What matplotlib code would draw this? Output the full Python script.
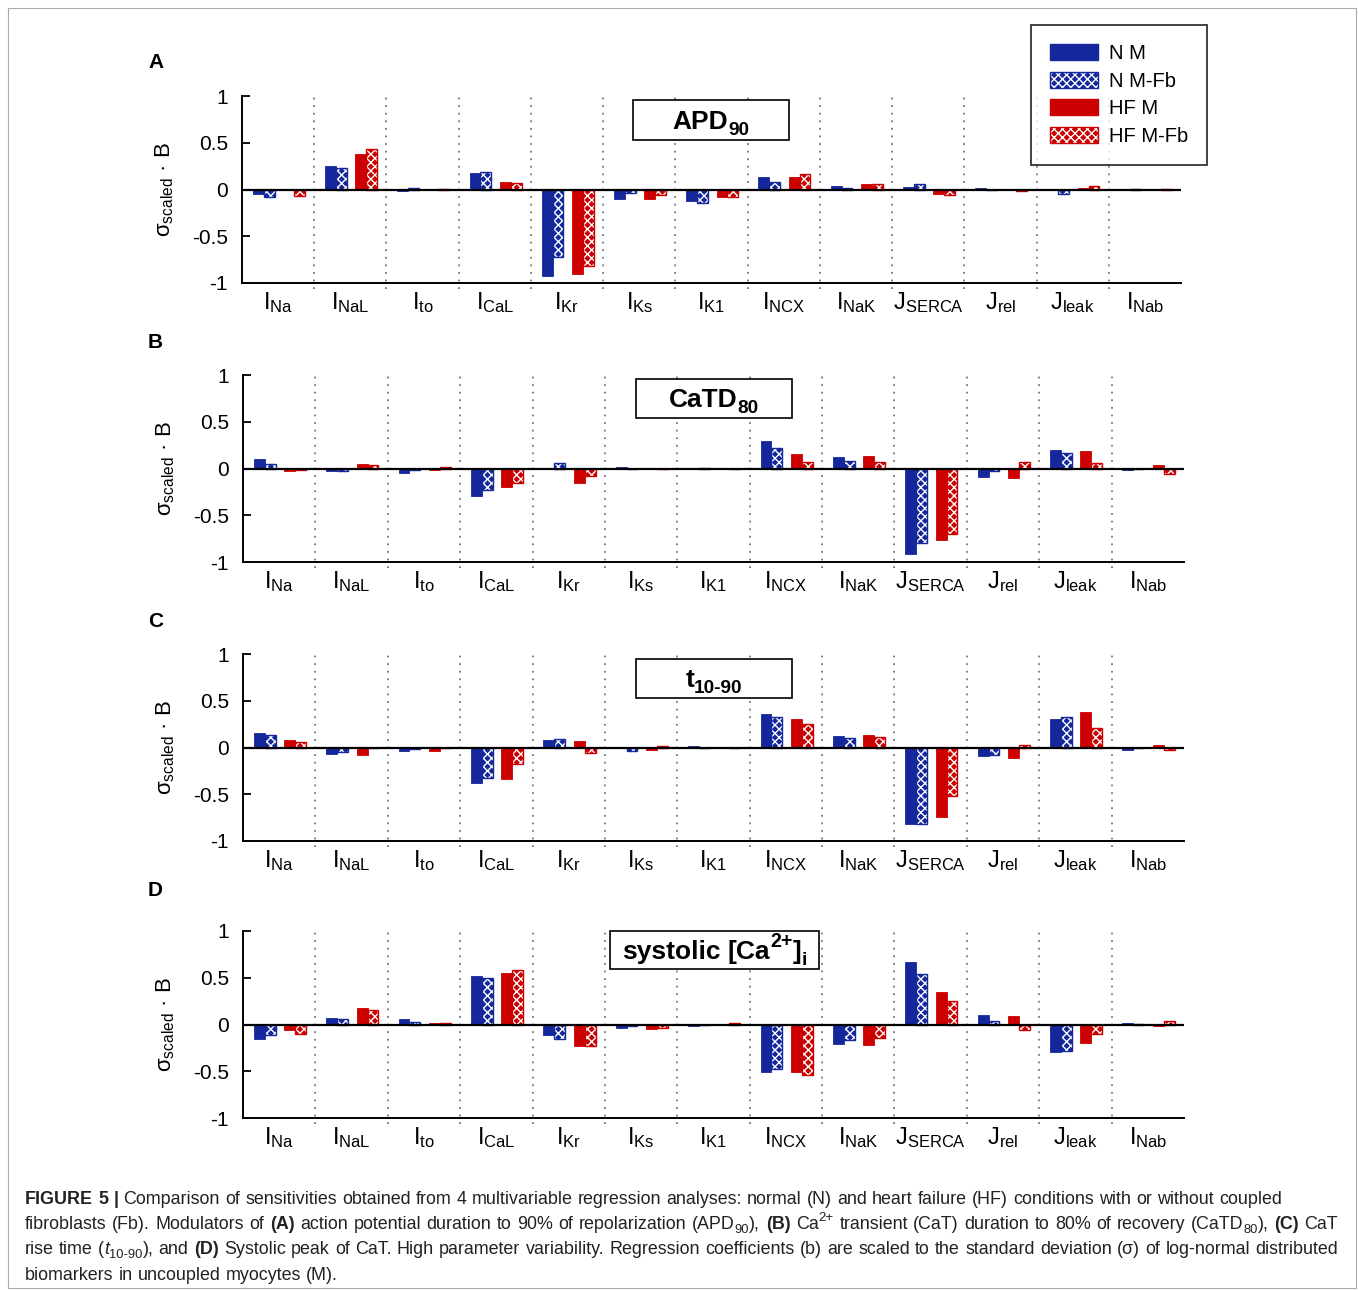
import matplotlib
matplotlib.use("Agg")
import matplotlib.pyplot as plt
from matplotlib.patches import Patch, Rectangle
from matplotlib.legend_handler import HandlerTuple
from matplotlib.transforms import IdentityTransform

plt.rcParams["font.family"] = ["Liberation Sans", "DejaVu Sans"]
plt.rcParams["hatch.linewidth"] = 1.0

# ── Data ──────────────────────────────────────────────────────────────────────

categories = [r"I$\mathregular{_{Na}}$", r"I$\mathregular{_{NaL}}$", r"I$\mathregular{_{to}}$",
              r"I$\mathregular{_{CaL}}$", r"I$\mathregular{_{Kr}}$", r"I$\mathregular{_{Ks}}$",
              r"I$\mathregular{_{K1}}$", r"I$\mathregular{_{NCX}}$", r"I$\mathregular{_{NaK}}$",
              r"J$\mathregular{_{SERCA}}$", r"J$\mathregular{_{rel}}$", r"J$\mathregular{_{leak}}$",
              r"I$\mathregular{_{Nab}}$"]
series_labels = ["N M", "N M-Fb", "HF M", "HF M-Fb"]
panel_letters = ["A", "B", "C", "D"]

# (A) APD90
apd_n_m   = [-0.05, 0.25, -0.015, 0.175, -0.925, -0.105, -0.125, 0.135, 0.04, 0.025, 0.02, -0.01, 0.01]
apd_n_fb  = [-0.08, 0.23, 0.02, 0.185, -0.72, -0.04, -0.14, 0.075, 0.02, 0.055, -0.01, -0.045, 0.005]
apd_hf_m  = [-0.005, 0.385, -0.01, 0.08, -0.905, -0.10, -0.085, 0.135, 0.06, -0.045, 0.005, 0.015, 0.01]
apd_hf_fb = [-0.065, 0.43, 0.01, 0.065, -0.815, -0.055, -0.08, 0.165, 0.06, -0.06, -0.02, 0.04, 0.005]

# (B) CaTD80
catd_n_m   = [0.10, -0.03, -0.05, -0.29, 0.005, 0.015, 0.01, 0.29, 0.125, -0.915, -0.09, 0.195, -0.015]
catd_n_fb  = [0.05, -0.03, -0.015, -0.235, 0.055, -0.005, 0.005, 0.215, 0.085, -0.795, -0.025, 0.165, 0.0]
catd_hf_m  = [-0.03, 0.045, -0.02, -0.20, -0.16, -0.005, 0.0, 0.16, 0.13, -0.765, -0.10, 0.19, 0.04]
catd_hf_fb = [-0.015, 0.04, 0.015, -0.16, -0.08, 0.0, 0.0, 0.07, 0.07, -0.70, 0.07, 0.06, -0.055]

# (C) t10-90
rise_n_m   = [0.15, -0.07, -0.04, -0.385, 0.075, 0.0, 0.015, 0.355, 0.12, -0.82, -0.09, 0.305, -0.025]
rise_n_fb  = [0.13, -0.043, -0.02, -0.33, 0.09, -0.04, -0.01, 0.325, 0.105, -0.82, -0.08, 0.325, 0.0]
rise_hf_m  = [0.075, -0.075, -0.04, -0.34, 0.07, -0.03, 0.0, 0.31, 0.135, -0.745, -0.115, 0.38, 0.03]
rise_hf_fb = [0.057, 0.0, 0.0, -0.18, -0.055, 0.015, 0.0, 0.255, 0.11, -0.52, 0.025, 0.205, -0.025]

# (D) systolic [Ca2+]i
sys_n_m   = [-0.16, 0.065, 0.06, 0.52, -0.115, -0.04, -0.02, -0.51, -0.21, 0.665, 0.105, -0.295, 0.02]
sys_n_fb  = [-0.11, 0.055, 0.03, 0.50, -0.15, -0.02, 0.0, -0.475, -0.165, 0.545, 0.04, -0.28, 0.005]
sys_hf_m  = [-0.055, 0.175, 0.02, 0.555, -0.225, -0.045, 0.01, -0.505, -0.215, 0.35, 0.09, -0.20, -0.015]
sys_hf_fb = [-0.10, 0.16, 0.02, 0.585, -0.235, -0.04, 0.02, -0.545, -0.14, 0.255, -0.055, -0.10, 0.035]

panels = [
    [apd_n_m, apd_n_fb, apd_hf_m, apd_hf_fb],
    [catd_n_m, catd_n_fb, catd_hf_m, catd_hf_fb],
    [rise_n_m, rise_n_fb, rise_hf_m, rise_hf_fb],
    [sys_n_m, sys_n_fb, sys_hf_m, sys_hf_fb],
]

# title text runs: (text, style)
title_runs = [
    [("APD", "b"), ("90", "bsub")],
    [("CaTD", "b"), ("80", "bsub")],
    [("t", "b"), ("10-90", "bsub")],
    [("systolic [Ca", "b"), ("2+", "bsup"), ("]", "b"), ("i", "bsub")],
]

caption_lines = [
    [("FIGURE 5 |", "b"), (" Comparison of sensitivities obtained from 4 multivariable regression "
                           "analyses: normal (N) and heart failure (HF) conditions with or without coupled", "n")],
    [("fibroblasts (Fb). Modulators of ", "n"), ("(A)", "b"),
     (" action potential duration to 90% of repolarization (APD", "n"), ("90", "sub"), ("), ", "n"),
     ("(B)", "b"), (" Ca", "n"), ("2+", "sup"), (" transient (CaT) duration to 80% of recovery (CaTD", "n"),
     ("80", "sub"), ("), ", "n"), ("(C)", "b"), (" CaT", "n")],
    [("rise time (", "n"), ("t", "i"), ("10-90", "sub"), ("), and ", "n"), ("(D)", "b"),
     (" Systolic peak of CaT. High parameter variability. Regression coefficients (b) are scaled "
      "to the standard deviation (σ) of log-normal distributed", "n")],
    [("biomarkers in uncoupled myocytes (M).", "n")],
]

# ── Style ─────────────────────────────────────────────────────────────────────

W, H = 1358, 1290
BLUE = "#14289b"
RED = "#cc0000"
colors = [BLUE, BLUE, RED, RED]
hatched = [False, True, False, True]
offsets = [-0.275, -0.125, 0.145, 0.295]
bar_w = 0.15
HATCH = "xxxx"

# axes boxes in pixels from top-left: (left, top, right, bottom)
axes_px = [(242, 96, 1181, 283), (243, 375, 1184, 562), (243, 654, 1184, 841), (243, 931, 1184, 1118)]
# title boxes in axes fractions: (x0, y0, x1, y1)
title_boxes = [(0.416, 0.765, 0.5825, 0.979), (0.4176, 0.770, 0.5834, 0.979),
               (0.4176, 0.765, 0.5834, 0.973), (0.390, 0.797, 0.612, 1.0)]
letter_y = [62, 342, 622, 891]

fig = plt.figure(figsize=(W / 100, H / 100), dpi=100)
renderer = fig.canvas.get_renderer()


def run_kwargs(style, size, family):
    kw = dict(fontsize=size, family=family)
    dy = 0.0
    if style.startswith("b"):
        kw["weight"] = "bold"
    if style == "i":
        kw["style"] = "italic"
    if style.endswith("sub"):
        kw["fontsize"] = size * 0.72
        dy = -0.22 * size * 100 / 72
    elif style.endswith("sup"):
        kw["fontsize"] = size * 0.75
        dy = 0.45 * size * 100 / 72
    return kw, dy


def space_width(size, family):
    a = fig.text(0, 0, "a a", fontsize=size, family=family)
    b = fig.text(0, 0, "aa", fontsize=size, family=family)
    w = a.get_window_extent(renderer).width - b.get_window_extent(renderer).width
    a.remove()
    b.remove()
    return w


def put_runs(x, y, runs, size, family, color="black", draw=True, stretch=0.0):
    """Lay text runs word by word on a baseline, in display pixels.

    `stretch` is added to every inter-word space (used for justification).
    Returns (width, number of spaces)."""
    sp = space_width(size, family) + stretch
    x0 = x
    nsp = 0
    for s, style in runs:
        kw, dy = run_kwargs(style, size, family)
        words = s.split(" ")
        for wi, word in enumerate(words):
            if wi > 0:
                x += sp
                nsp += 1
            if not word:
                continue
            t = fig.text(x, y + dy, word, transform=IdentityTransform(),
                         va="baseline", ha="left", color=color, **kw)
            x += t.get_window_extent(renderer).width
            if not draw:
                t.remove()
    return x - x0, nsp


for k, (vals, (l, t, r, b)) in enumerate(zip(panels, axes_px)):
    ax = fig.add_axes([l / W, 1 - b / H, (r - l) / W, (b - t) / H])
    n = len(categories)
    for j in range(4):
        xs = [i + 0.5 + offsets[j] for i in range(n)]
        if hatched[j]:
            ax.bar(xs, vals[j], width=bar_w, color=colors[j], edgecolor="white",
                   hatch=HATCH, linewidth=0, zorder=2)
            ax.bar(xs, vals[j], width=bar_w, fill=False, edgecolor=colors[j],
                   linewidth=1.0, zorder=2)
        else:
            ax.bar(xs, vals[j], width=bar_w, color=colors[j], edgecolor=colors[j],
                   linewidth=0.6, zorder=2)

    for i in range(1, n):
        ax.axvline(i, ymin=-0.03, ymax=1, color="#777777", linestyle=(0, (1, 3.2)),
                   linewidth=1.3, clip_on=False, zorder=1)
    ax.axhline(0, color="black", linewidth=1.6, zorder=3)

    ax.set_xlim(0, n)
    ax.set_ylim(-1, 1)
    ax.set_yticks([-1, -0.5, 0, 0.5, 1])
    ax.set_yticklabels(["-1", "-0.5", "0", "0.5", "1"])
    ax.set_xticks([])
    ax.set_xticks([i + 0.5 for i in range(n)], minor=True)
    ax.set_xticklabels(categories, minor=True, fontsize=17)
    ax.tick_params(axis="x", which="minor", length=0, pad=5)
    ax.tick_params(axis="y", direction="in", length=6, width=1.3, labelsize=15, pad=10)
    for side in ("top", "right"):
        ax.spines[side].set_visible(False)
    for side in ("left", "bottom"):
        ax.spines[side].set_linewidth(1.4)

    ax.set_ylabel(r"σ$\mathregular{_{scaled}}$ · B", fontsize=16)
    ax.yaxis.set_label_coords(-0.07, 0.5)

    # title box
    x0, y0, x1, y1 = title_boxes[k]
    ax.add_patch(Rectangle((x0, y0), x1 - x0, y1 - y0, transform=ax.transAxes,
                           facecolor="white", edgecolor="black", linewidth=1.2,
                           clip_on=False, zorder=5))
    cx, cy = ax.transAxes.transform(((x0 + x1) / 2, (y0 + y1) / 2))
    tw, _ = put_runs(0, 0, title_runs[k], 19, "Liberation Sans", draw=False)
    put_runs(cx - tw / 2, cy - 9, title_runs[k], 19, "Liberation Sans")

    fig.text(148 / W, 1 - letter_y[k] / H, panel_letters[k], fontsize=15,
             weight="bold", va="center", ha="left")

# ── Legend ────────────────────────────────────────────────────────────────────

handles = []
for j in range(4):
    if hatched[j]:
        handles.append((Patch(facecolor=colors[j], edgecolor="white", hatch=HATCH, linewidth=0),
                        Patch(fill=False, edgecolor=colors[j], linewidth=1.0)))
    else:
        handles.append(Patch(facecolor=colors[j], edgecolor=colors[j]))
leg = fig.legend(handles, series_labels, loc="upper left",
                 bbox_to_anchor=(1031 / W, 1 - 25 / H), fontsize=14.5,
                 handler_map={tuple: HandlerTuple(ndivide=1, pad=0)},
                 handlelength=2.4, handleheight=0.85, handletextpad=0.5,
                 labelspacing=0.42, borderpad=0.95, borderaxespad=0,
                 fancybox=False, frameon=True)
leg.get_frame().set_edgecolor("black")
leg.get_frame().set_linewidth(1.3)

# ── Caption & frame ───────────────────────────────────────────────────────────

cap_family = ["Liberation Sans"]
cap_size = 12.9
baselines = [1204, 1229, 1254, 1280]
line_ends = [1282, 1338, 1338, None]   # right edge of each caption line (None = ragged)
for runs, yb, end in zip(caption_lines, baselines, line_ends):
    stretch = 0.0
    if end is not None:
        w, nsp = put_runs(25, H - yb, runs, cap_size, cap_family, draw=False)
        stretch = (end - 25 - w) / max(nsp, 1)
    put_runs(25, H - yb, runs, cap_size, cap_family, color="#222222", stretch=stretch)

fig.patches.append(Rectangle((8 / W, 2 / H), 1348 / W, 1280 / H, transform=fig.transFigure,
                             fill=False, edgecolor="#aaaaaa", linewidth=0.8))

fig.savefig("out.png", dpi=100)
